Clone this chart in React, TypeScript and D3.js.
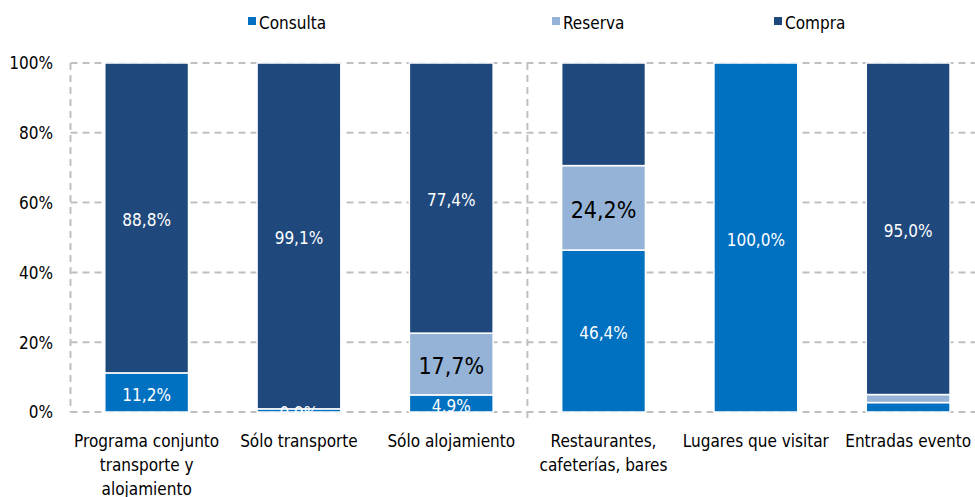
import React from "react";
import * as d3 from "d3";

const categories = [
  ["Programa conjunto", "transporte y", "alojamiento"],
  ["Sólo transporte"],
  ["Sólo alojamiento"],
  ["Restaurantes,", "cafeterías, bares"],
  ["Lugares que visitar"],
  ["Entradas evento"],
];
const consulta = [11.2, 0.9, 4.9, 46.4, 100.0, 2.7];
const reserva = [0, 0, 17.7, 24.2, 0, 2.3];
const compra = [88.8, 99.1, 77.4, 29.4, 0, 95.0];
const showLabel = [
  [true, false, true],
  [true, false, true],
  [true, true, true],
  [true, true, false],
  [true, false, false],
  [false, false, true],
];
const seriesNames = ["Consulta", "Reserva", "Compra"];
const colors = ["#0070C0", "#95B3D7", "#1F497D"];
const yTicks = [0, 20, 40, 60, 80, 100];

const FONT = "'Liberation Sans Narrow', 'DejaVu Sans Condensed', sans-serif";

export default function App() {
  const W = 975, H = 497;
  const x0 = 70.5, step = 152.3;
  const x = d3.scaleBand<number>().domain(d3.range(6)).range([x0, x0 + step * 6]).paddingInner(0.45).paddingOuter(0.225);
  const y = d3.scaleLinear().domain([0, 100]).range([412, 63]);
  const series = [consulta, reserva, compra];
  const stack = categories.map((_, i) => {
    let acc = 0;
    return series.map((s, k) => {
      const v = s[i];
      const seg = { k, y0: acc, y1: acc + v, v };
      acc += v;
      return seg;
    });
  });
  const fmt = (v: number) => v.toFixed(1).replace(".", ",") + "%";
  const grid = "#C0C0C0";
  return (
    <svg width={W} height={H} style={{ position: "absolute", left: 0, top: 0, background: "#fff" }} fontFamily={FONT}>
      {yTicks.map((t) => (
        <line key={t} x1={x0} x2={W} y1={y(t)} y2={y(t)} stroke={grid} strokeWidth={2} strokeDasharray="7,5" />
      ))}
      <line x1={x0} x2={x0} y1={y(100)} y2={y(0)} stroke={grid} strokeWidth={2} strokeDasharray="7,5" />
      <line x1={x0 + step * 3} x2={x0 + step * 3} y1={y(100)} y2={y(0) + 8} stroke={grid} strokeWidth={2} strokeDasharray="7,5" />
      {yTicks.map((t) => (
        <text key={t} x={53} y={y(t)} dy="0.38em" textAnchor="end" fontSize={17} fill="#000">{t}%</text>
      ))}
      {stack.map((segs, i) => (
        <g key={i}>
          {segs.filter((s) => s.v > 0).map((s) => (
            <rect key={s.k} x={x(i)!} width={x.bandwidth()} y={y(s.y1)} height={y(s.y0) - y(s.y1)} fill={colors[s.k]} stroke="#fff" strokeWidth={1.5} />
          ))}
          {segs.filter((s) => s.v > 0 && showLabel[i][s.k]).map((s) => (
            <text key={"l" + s.k} x={x(i)! + x.bandwidth() / 2} y={y((s.y0 + s.y1) / 2) + 2} dy="0.36em" textAnchor="middle"
              fontSize={s.k === 1 ? 23 : 17} fill={s.k === 1 ? "#000" : "#fff"}>{fmt(s.v)}</text>
          ))}
          {categories[i].map((line, j) => (
            <text key={"c" + j} x={x(i)! + x.bandwidth() / 2} y={447 + j * 24} textAnchor="middle" fontSize={17} fill="#000">{line}</text>
          ))}
        </g>
      ))}
      {seriesNames.map((n, k) => {
        const lx = [248, 552, 774][k];
        return (
          <g key={n}>
            <rect x={lx} y={17} width={8} height={8} fill={colors[k]} />
            <text x={lx + 11} y={27} dy="0.1em" fontSize={17} fill="#000">{n}</text>
          </g>
        );
      })}
    </svg>
  );
}
